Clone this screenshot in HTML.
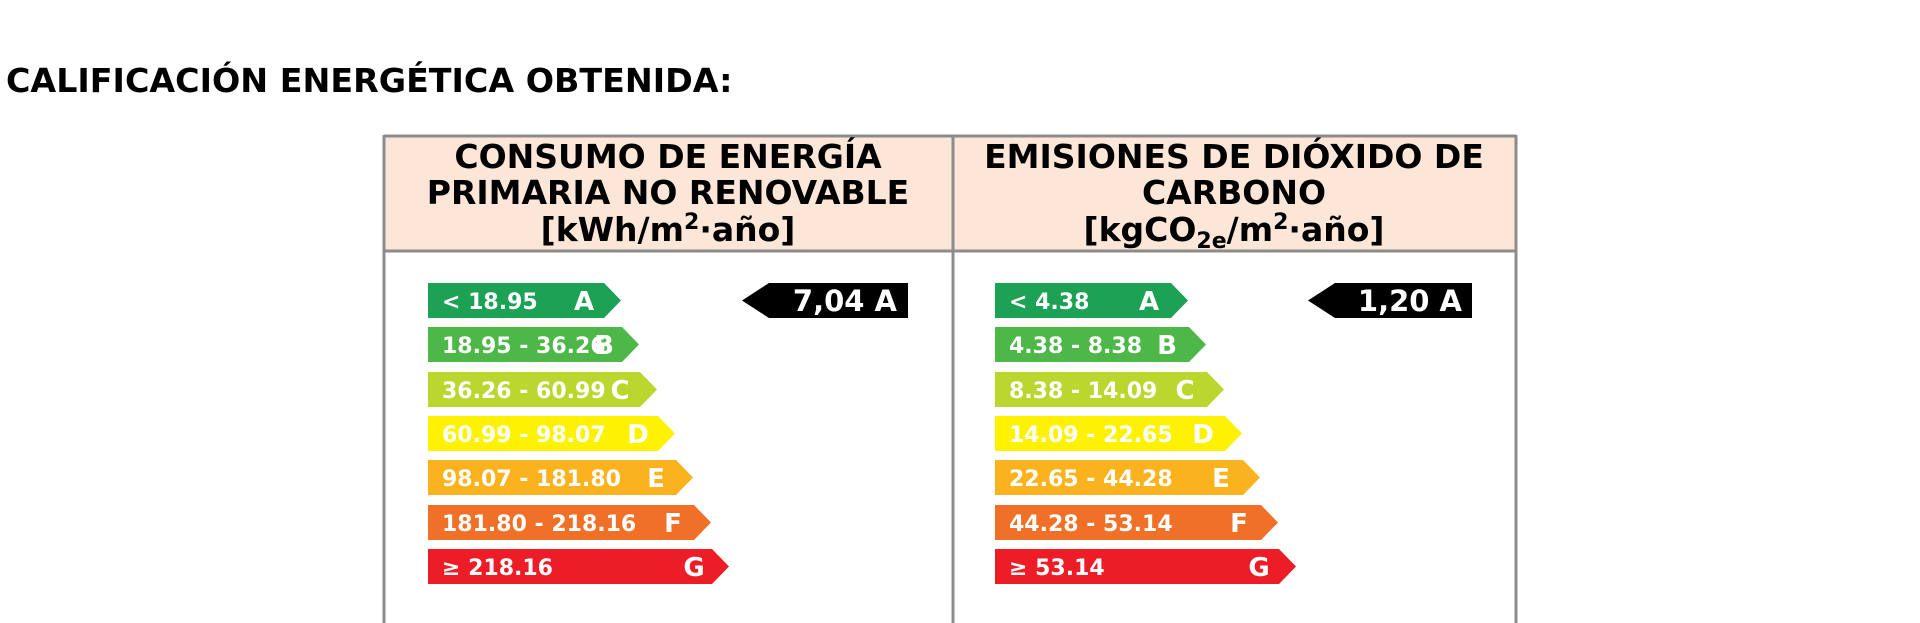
<!DOCTYPE html>
<html><head><meta charset="utf-8"><style>
html,body{margin:0;padding:0;background:#fff;width:1920px;height:623px;overflow:hidden}
svg{display:block}
text{font-family:"DejaVu Sans","Liberation Sans",sans-serif;font-weight:bold}
</style></head><body>
<svg width="1920" height="623" viewBox="0 0 1920 623" xmlns="http://www.w3.org/2000/svg">
<text x="6" y="92" font-size="33.3" fill="#000">CALIFICACIÓN ENERGÉTICA OBTENIDA:</text>
<rect x="384" y="136" width="1132" height="115" fill="#fce6d8"/>
<g stroke="#8c8c8c" stroke-width="3" fill="none">
<line x1="384" y1="136" x2="1516" y2="136"/>
<line x1="384" y1="251" x2="1516" y2="251"/>
<line x1="384" y1="135" x2="384" y2="623"/>
<line x1="953" y1="135" x2="953" y2="623"/>
<line x1="1516" y1="135" x2="1516" y2="623"/>
</g>
<g font-size="33" fill="#000" text-anchor="middle">
<text x="668" y="168">CONSUMO DE ENERGÍA</text>
<text x="668" y="204">PRIMARIA NO RENOVABLE</text>
<text x="668" y="241">[kWh/m<tspan font-size="22" dy="-12">2</tspan><tspan dy="12">·año]</tspan></text>
<text x="1234" y="168">EMISIONES DE DIÓXIDO DE</text>
<text x="1234" y="204">CARBONO</text>
<text x="1234" y="241">[kgCO<tspan font-size="22" dy="7">2e</tspan><tspan dy="-7">/m</tspan><tspan font-size="22" dy="-12">2</tspan><tspan dy="12">·año]</tspan></text>
</g>
<g>
<polygon points="428,283 604,283 621,300.5 604,318 428,318" fill="#1ca155"/>
<polygon points="428,327 622,327 639,344.5 622,362 428,362" fill="#4db748"/>
<polygon points="428,372 640,372 657,389.5 640,407 428,407" fill="#bcd630"/>
<polygon points="428,416 658,416 675,433.5 658,451 428,451" fill="#fff200"/>
<polygon points="428,460 676,460 693,477.5 676,495 428,495" fill="#fbb21f"/>
<polygon points="428,505 694,505 711,522.5 694,540 428,540" fill="#f07027"/>
<polygon points="428,549 712,549 729,566.5 712,584 428,584" fill="#ec1d27"/>
</g>
<g font-size="22" fill="#fff">
<text x="442" y="309">&lt; 18.95</text>
<text x="442" y="353">18.95 - 36.26</text>
<text x="442" y="398">36.26 - 60.99</text>
<text x="442" y="442">60.99 - 98.07</text>
<text x="442" y="486">98.07 - 181.80</text>
<text x="442" y="531">181.80 - 218.16</text>
<text x="442" y="575">≥ 218.16</text>
</g>
<g font-size="26" fill="#fff" text-anchor="middle">
<text x="584" y="310">A</text>
<text x="604" y="354">B</text>
<text x="620" y="399">C</text>
<text x="638" y="443">D</text>
<text x="656" y="487">E</text>
<text x="673" y="532">F</text>
<text x="694" y="576">G</text>
</g>
<polygon points="742,300.5 769,283 908,283 908,318 769,318" fill="#000"/>
<text x="897" y="311" font-size="29" fill="#fff" text-anchor="end">7,04 A</text>
<g transform="translate(567,0)">
<polygon points="428,283 604,283 621,300.5 604,318 428,318" fill="#1ca155"/>
<polygon points="428,327 622,327 639,344.5 622,362 428,362" fill="#4db748"/>
<polygon points="428,372 640,372 657,389.5 640,407 428,407" fill="#bcd630"/>
<polygon points="428,416 658,416 675,433.5 658,451 428,451" fill="#fff200"/>
<polygon points="428,460 676,460 693,477.5 676,495 428,495" fill="#fbb21f"/>
<polygon points="428,505 694,505 711,522.5 694,540 428,540" fill="#f07027"/>
<polygon points="428,549 712,549 729,566.5 712,584 428,584" fill="#ec1d27"/>
<g font-size="22" fill="#fff">
<text x="442" y="309">&lt; 4.38</text>
<text x="442" y="353">4.38 - 8.38</text>
<text x="442" y="398">8.38 - 14.09</text>
<text x="442" y="442">14.09 - 22.65</text>
<text x="442" y="486">22.65 - 44.28</text>
<text x="442" y="531">44.28 - 53.14</text>
<text x="442" y="575">≥ 53.14</text>
</g>
<g font-size="26" fill="#fff" text-anchor="middle">
<text x="582" y="310">A</text>
<text x="600" y="354">B</text>
<text x="618" y="399">C</text>
<text x="636" y="443">D</text>
<text x="654" y="487">E</text>
<text x="672" y="532">F</text>
<text x="692" y="576">G</text>
</g>
</g>
<polygon points="1308,300.5 1335,283 1472,283 1472,318 1335,318" fill="#000"/>
<text x="1462" y="311" font-size="29" fill="#fff" text-anchor="end">1,20 A</text>
</svg>
</body></html>
